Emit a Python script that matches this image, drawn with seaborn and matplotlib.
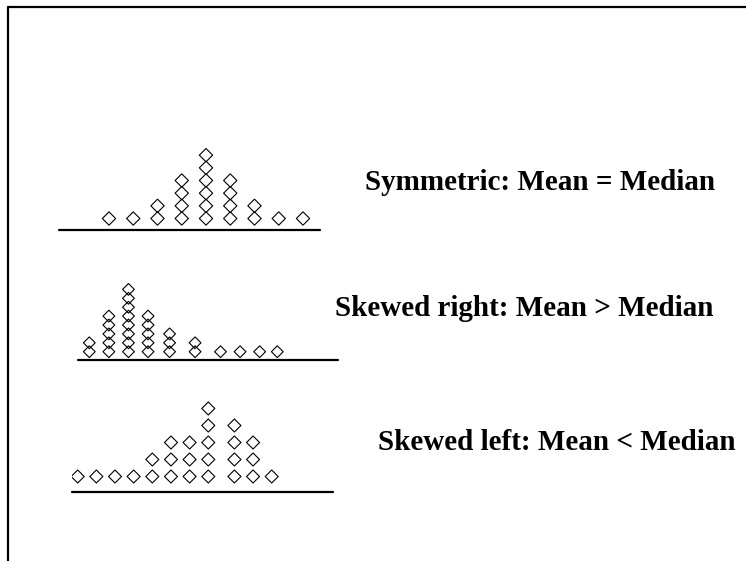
import numpy as np
import pandas as pd
import matplotlib.pyplot as plt
import seaborn as sns
from matplotlib.lines import Line2D

# dot-plot data: position of each column on the value scale and how many dots it holds
sym_values = [1, 2, 3, 4, 5, 6, 7, 8, 9]
sym_counts = [1, 1, 2, 4, 6, 4, 2, 1, 1]

right_values = [1, 2, 3, 4, 5.1, 6.4, 7.7, 8.7, 9.7, 10.6]
right_counts = [2, 5, 8, 5, 3, 2, 1, 1, 1, 1]

left_values = [1, 2, 3, 4, 5, 6, 7, 8, 9.4, 10.4, 11.4]
left_counts = [1, 1, 1, 1, 2, 3, 3, 5, 4, 3, 1]

labels = ["Symmetric: Mean = Median",
          "Skewed right: Mean > Median",
          "Skewed left: Mean < Median"]

W, H = 746, 561


def stack(values, counts):
    df = pd.DataFrame({"value": np.repeat(values, counts)})
    df["level"] = df.groupby("value").cumcount()
    return df


sns.set_style("white")
plt.rcParams["font.family"] = ["Liberation Serif", "DejaVu Serif"]

fig = plt.figure(figsize=(W / 100, H / 100), dpi=100)

# layout per panel: baseline px (x0, x1, y_base), xlim, dot step px, first-dot offset px,
# marker size, label (x, y) px
panels = [
    (stack(sym_values, sym_counts), (59, 320, 229.5), (-1.062, 9.701), 12.67, 11.0, 46, (365, 183)),
    (stack(right_values, right_counts), (78, 338, 360), (0.423, 13.70), 8.9, 8.3, 36, (335, 308)),
    (stack(left_values, left_counts), (72, 333, 491.5), (0.695, 14.685), 17.0, 15.0, 44, (378, 442)),
]

box_h = 130
for (df, (x0, x1, yb), xlim, step, off, ms, (tx, ty)), label in zip(panels, labels):
    ax = fig.add_axes([x0 / W, (H - yb) / H, (x1 - x0) / W, box_h / H])
    sns.scatterplot(data=df, x="value", y="level", marker="D", s=ms,
                    facecolor="none", edgecolor="black", linewidth=0.8, ax=ax)
    ax.set_xlim(*xlim)
    lo = -off / step
    ax.set_ylim(lo, lo + box_h / step)
    ax.set_axis_off()
    ax.patch.set_alpha(0)
    ax.add_line(Line2D([0, 1], [0, 0], transform=ax.transAxes, color="black",
                       linewidth=1.6, clip_on=False))
    fig.text(tx / W, 1 - ty / H, label, ha="left", va="center",
             fontsize=21, fontweight="bold", color="black")

# frame lines at top and left
fig.add_artist(Line2D([8 / W, 1], [1 - 7 / H, 1 - 7 / H], transform=fig.transFigure,
                      color="black", linewidth=1.6))
fig.add_artist(Line2D([8 / W, 8 / W], [1 - 7 / H, 0], transform=fig.transFigure,
                      color="black", linewidth=1.6))

fig.savefig("out.png", dpi=100)
